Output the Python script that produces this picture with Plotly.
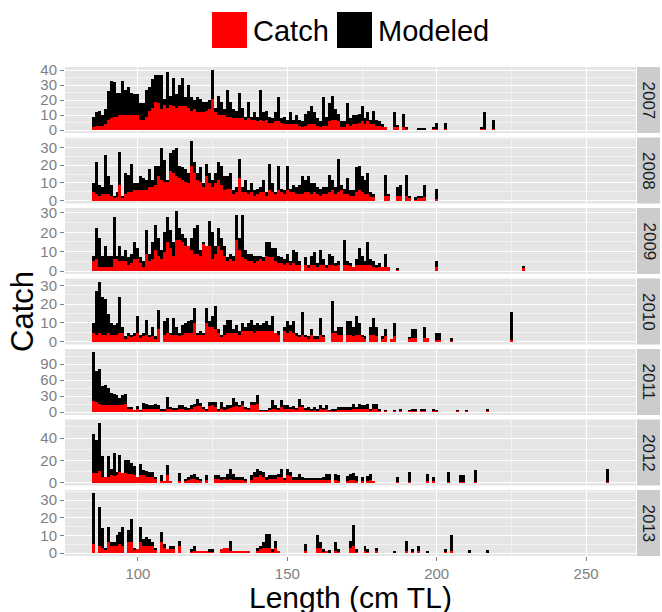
import plotly.graph_objects as go
from plotly.subplots import make_subplots

# Length bins (cm TL), one bar per cm
lengths = list(range(85, 259))
years = [2007, 2008, 2009, 2010, 2011, 2012, 2013]

# Values listed from 85 cm upward, 10 bins per row; remaining bins are 0
catch_2007 = [
    2, 3, 3, 3, 4, 7, 8, 9, 9, 10,
    10, 10, 10, 10, 10, 10, 7, 7, 9, 13,
    15, 19, 18, 14, 17, 15, 17, 16, 15, 16,
    16, 16, 15, 13, 14, 12, 12, 12, 13, 14,
    21, 12, 10, 10, 10, 9, 9, 8, 8, 8,
    8, 7, 8, 7, 7, 6, 7, 6, 7, 5,
    5, 6, 6, 5, 4, 4, 4, 4, 4, 3,
    2, 3, 4, 4, 4, 3, 2, 3, 3, 6,
    7, 7, 6, 2, 2, 4, 3, 4, 4, 5,
    6, 4, 6, 4, 4, 3, 3, 2, 2, 0,
    0, 2, 2, 0, 2, 1, 0, 0, 0, 0.5,
    0.5, 0.5, 0, 0, 1, 1, 0, 0, 1, 0,
    0, 0, 0, 0, 0, 0, 0, 0, 0, 0,
    1, 1, 0, 0, 1]
modeled_2007 = [
    7, 9, 10, 7, 10, 19, 25, 23, 16, 15,
    23, 17, 19, 15, 14, 14, 11, 11, 18, 16,
    19, 18, 19, 23, 4, 24, 6, 19, 9, 14,
    19, 6, 15, 9, 6, 10, 9, 7, 6, 6,
    19, 3, 13, 9, 4, 18, 10, 6, 5, 17,
    7, 2, 11, 2, 5, 3, 20, 6, 6, 4,
    3, 6, 16, 3, 5, 3, 8, 3, 6, 4,
    4, 8, 9, 12, 8, 5, 4, 19, 6, 12,
    16, 7, 5, 4, 4, 14, 5, 6, 6, 6,
    10, 4, 6, 3, 9, 4, 3, 2, 0, 0,
    0, 10, 1, 0, 9, 1, 0, 0, 0, 0.5,
    0.5, 0.5, 0, 0, 0.5, 4, 0, 0, 4, 0,
    0, 0, 0, 0, 0, 0, 0, 0, 0, 0,
    1, 11, 0, 0, 6]

catch_2008 = [
    5, 4, 3, 4, 4, 4, 3, 2, 2, 9,
    2, 4, 5, 5, 6, 6, 6, 6, 6, 8,
    8, 9, 14, 12, 11, 11, 17, 16, 14, 13,
    12, 11, 10, 20, 16, 12, 11, 8, 14, 10,
    8, 10, 12, 9, 6, 7, 7, 4, 5, 13,
    5, 5, 4, 5, 3, 4, 5, 5, 3, 6,
    5, 4, 6, 5, 4, 6, 5, 5, 4, 4,
    4, 5, 5, 4, 5, 4, 3, 4, 4, 5,
    6, 4, 5, 6, 4, 4, 3, 3, 5, 6,
    5, 4, 4, 2, 2, 0, 0, 0, 3, 3,
    0, 0, 3, 3, 0, 3, 2, 0, 1, 2,
    2, 2, 0, 0, 0, 1]
modeled_2008 = [
    5, 18, 6, 4, 22, 10, 6, 1, 3, 19,
    1, 12, 10, 16, 4, 4, 8, 7, 6, 10,
    4, 11, 6, 18, 12, 1, 10, 13, 16, 7,
    7, 7, 6, 14, 6, 4, 8, 2, 7, 6,
    4, 6, 10, 11, 8, 7, 9, 2, 3, 11,
    3, 7, 2, 5, 3, 3, 3, 7, 2, 15,
    5, 1, 14, 2, 2, 14, 2, 4, 4, 5,
    10, 7, 9, 6, 5, 4, 4, 4, 4, 10,
    6, 4, 19, 3, 3, 9, 3, 3, 14, 14,
    9, 8, 12, 3, 2, 0, 0, 0, 12, 1,
    0, 0, 5, 6, 0, 12, 1, 0, 1, 1,
    1, 7, 0, 0, 0, 6]

catch_2009 = [
    5, 6, 2, 2, 2, 2, 2, 6, 6, 5,
    5, 5, 3, 4, 6, 6, 4, 2, 9, 5,
    6, 11, 8, 6, 10, 15, 12, 8, 16, 16,
    15, 13, 13, 11, 9, 9, 8, 14, 13, 13,
    6, 9, 13, 11, 8, 5, 6, 5, 16, 11,
    7, 6, 5, 5, 4, 5, 6, 5, 8, 7,
    7, 5, 4, 4, 3, 4, 3, 4, 3, 3,
    0, 3, 2, 3, 3, 2, 3, 3, 2, 3,
    3, 3, 3, 0, 3, 3, 3, 2, 3, 3,
    3, 3, 3, 3, 2, 2, 2, 2, 2, 2,
    0, 0, 1, 0, 0, 0, 0, 0, 0, 0,
    0, 0, 0, 0, 0, 2, 0, 0, 0, 0,
    0, 0, 0, 0, 0, 0, 0, 0, 0, 0,
    0, 0, 0, 0, 0, 0, 0, 0, 0, 0,
    0, 0, 0, 0, 2]
modeled_2009 = [
    3, 16, 15, 6, 11, 6, 6, 22, 2, 8,
    3, 6, 4, 5, 9, 6, 3, 3, 12, 4,
    9, 13, 9, 5, 10, 13, 9, 7, 15, 6,
    4, 4, 0, 6, 13, 15, 3, 1, 0, 13,
    14, 4, 9, 6, 5, 2, 3, 3, 13, 6,
    22, 5, 4, 4, 4, 3, 2, 2, 7, 8,
    5, 7, 4, 3, 3, 5, 2, 7, 7, 2,
    0, 4, 1, 5, 7, 2, 8, 3, 1, 6,
    5, 1, 2, 0, 13, 2, 1, 0, 3, 9,
    5, 2, 12, 3, 3, 1, 2, 0, 7, 0,
    0, 0, 0.5, 0, 0, 0, 0, 0, 0, 0,
    0, 0, 0, 0, 0, 3, 0, 0, 0, 0,
    0, 0, 0, 0, 0, 0, 0, 0, 0, 0,
    0, 0, 0, 0, 0, 0, 0, 0, 0, 0,
    0, 0, 0, 0, 0.4]

catch_2010 = [
    5, 4, 5, 4, 4, 5, 4, 4, 4, 5,
    5, 2, 3, 3, 3, 5, 2, 3, 4, 3,
    3, 2, 7, 0, 4, 5, 4, 4, 4, 3,
    4, 5, 5, 5, 10, 4, 4, 4, 10, 8,
    8, 7, 5, 3, 4, 5, 5, 5, 5, 4,
    6, 6, 6, 6, 5, 6, 6, 6, 6, 6,
    6, 5, 4, 0, 6, 5, 6, 5, 3, 3,
    4, 3, 2, 4, 2, 2, 4, 3, 0, 0,
    5, 5, 4, 4, 0, 4, 4, 3, 4, 4,
    3, 2, 0, 4, 4, 3, 0, 2, 3, 0,
    1.5, 3, 0, 0, 0, 0, 2, 2, 2, 0,
    0, 2, 2, 0, 0, 1, 1, 0, 0, 0,
    1, 0, 0, 0, 0, 0, 0, 0, 0, 0,
    0, 0, 0, 0, 0, 0, 0, 0, 0, 0,
    1]
modeled_2010 = [
    5, 23, 27, 20, 19, 10, 6, 5, 6, 19,
    3, 1, 2, 1, 2, 9, 2, 2, 8, 1,
    5, 1, 10, 0, 7, 8, 1, 9, 4, 2,
    5, 5, 6, 7, 8, 1, 2, 1, 8, 3,
    6, 12, 2, 1, 5, 7, 7, 2, 4, 2,
    4, 2, 4, 6, 4, 4, 3, 4, 5, 3,
    8, 0, 2, 0, 2, 6, 3, 6, 2, 1,
    12, 1, 1, 3, 1, 1, 9, 1, 0, 0,
    17, 1, 4, 4, 0, 7, 7, 5, 10, 6,
    1, 1, 0, 4, 9, 5, 0, 1, 4, 0,
    0, 7, 0, 0, 0, 0, 0.5, 5, 5, 0,
    0, 6, 0, 0, 0, 4, 4, 0, 0, 0,
    1, 0, 0, 0, 0, 0, 0, 0, 0, 0,
    0, 0, 0, 0, 0, 0, 0, 0, 0, 0,
    15]

catch_2011 = [
    21, 19, 16, 14, 13, 13, 13, 14, 13, 13,
    13, 16, 6, 6, 3, 5, 2, 6, 6, 6,
    6, 6, 6, 3, 3, 6, 6, 4, 4, 6,
    6, 4, 4, 6, 10, 11, 11, 6, 3, 11,
    13, 10, 3, 6, 4, 6, 8, 10, 11, 10,
    13, 6, 4, 13, 13, 16, 2, 2, 2, 4,
    6, 6, 4, 10, 6, 6, 6, 6, 4, 10,
    10, 4, 4, 3, 4, 3, 6, 4, 6, 2,
    2, 2, 4, 4, 4, 4, 4, 5, 5, 6,
    5, 5, 5, 3, 5, 5, 3, 0, 2, 0,
    0, 2, 0, 3, 0, 0, 2, 2, 2, 0,
    3, 3, 0, 0, 3, 2, 0, 0, 0, 0,
    0, 0, 2, 0, 0, 2, 0, 0, 0, 0,
    0, 0, 3]
modeled_2011 = [
    92, 59, 65, 35, 37, 32, 23, 20, 19, 13,
    19, 18, 4, 2, 0, 6, 1, 11, 10, 7,
    7, 10, 7, 3, 3, 23, 4, 2, 2, 7,
    7, 6, 2, 7, 6, 13, 6, 4, 3, 8,
    6, 9, 3, 13, 6, 7, 5, 16, 8, 3,
    8, 4, 2, 6, 6, 16, 1, 1, 1, 2,
    17, 7, 2, 13, 7, 7, 4, 5, 2, 14,
    3, 2, 6, 3, 6, 3, 7, 2, 7, 1,
    2, 2, 6, 6, 6, 6, 6, 11, 5, 10,
    8, 8, 10, 3, 11, 11, 3, 0, 1, 0,
    0, 1, 0, 3, 0, 0, 1, 2, 2, 0,
    3, 3, 0, 0, 3, 1, 0, 0, 0, 0,
    0, 0, 1, 0, 0, 1, 0, 0, 0, 0,
    0, 0, 3]

catch_2012 = [
    9, 9, 11, 5, 5, 5, 7, 6, 7, 10,
    9, 9, 8, 8, 7, 5, 7, 7, 5, 5,
    5, 4, 0, 2, 2, 7, 2, 0, 0, 2,
    0, 2, 3, 4, 4, 3, 2, 0, 3, 0,
    0, 4, 4, 3, 4, 3, 4, 3, 3, 3,
    3, 2, 0, 3, 5, 5, 7, 5, 3, 4,
    4, 4, 5, 5, 3, 7, 6, 3, 3, 3,
    3, 3, 3, 3, 3, 3, 3, 3, 3, 3,
    0, 3, 2, 0, 0, 2, 3, 3, 2, 0,
    2, 0, 2, 3, 2, 0, 0, 0, 0, 0,
    0, 0, 1, 0, 0, 0, 1, 0, 0, 0,
    0, 0, 2, 0, 2, 0, 0, 0, 0, 1,
    0, 0, 0, 1, 1, 0, 0, 0, 1, 0,
    0, 0, 0, 0, 0, 0, 0, 0, 0, 0,
    0, 0, 0, 0, 0, 0, 0, 0, 0, 0,
    0, 0, 0, 0, 0, 0, 0, 0, 0, 0,
    0, 0, 0, 0, 0, 0, 0, 0, 0, 0,
    0, 0, 1, 0]
modeled_2012 = [
    35, 30, 43, 19, 0, 19, 6, 21, 3, 15,
    0, 12, 13, 10, 8, 0, 10, 5, 6, 5,
    5, 1, 0, 5, 0, 9, 0, 0, 0, 7,
    0, 2, 2, 3, 4, 2, 2, 0, 4, 0,
    0, 3, 3, 2, 1, 5, 9, 5, 2, 2,
    2, 2, 0, 4, 5, 8, 4, 5, 2, 3,
    3, 3, 3, 8, 1, 6, 4, 2, 2, 5,
    2, 1, 1, 1, 1, 1, 1, 2, 5, 5,
    0, 5, 5, 0, 0, 4, 5, 6, 4, 0,
    3, 0, 4, 5, 0, 0, 0, 0, 0, 0,
    0, 0, 4, 0, 0, 0, 9, 0, 0, 0,
    0, 0, 6, 0, 3, 0, 0, 0, 0, 9,
    0, 0, 0, 6, 6, 0, 0, 0, 11, 0,
    0, 0, 0, 0, 0, 0, 0, 0, 0, 0,
    0, 0, 0, 0, 0, 0, 0, 0, 0, 0,
    0, 0, 0, 0, 0, 0, 0, 0, 0, 0,
    0, 0, 0, 0, 0, 0, 0, 0, 0, 0,
    0, 0, 12, 0]

catch_2013 = [
    5, 0, 4, 3, 2, 6, 4, 4, 4, 5,
    4, 0, 6, 6, 2, 2, 6, 4, 4, 4,
    4, 2, 0, 6, 3, 2, 2, 2, 0, 4,
    0, 0, 0, 0.5, 1, 1, 1, 1, 1, 1,
    0.5, 0, 0, 2, 3, 3, 1, 1, 1, 1,
    1, 1, 1, 0, 0, 1, 2, 3, 3, 3,
    1, 3, 1, 0, 0, 0, 0, 0, 0, 0,
    0, 1, 0, 0, 0, 3, 3, 1, 1, 0.5,
    0, 1, 1, 0, 0, 0, 3, 4, 1, 0,
    0, 1, 1, 0, 0, 1, 0, 0, 0, 0,
    0, 0.5, 0, 0, 0, 1, 0, 1, 0, 1,
    0, 0, 0.5, 0, 0, 0, 0, 0, 1, 0,
    1, 0, 0, 0, 0, 0, 0.5, 0, 0, 0,
    0, 0, 0.5]
modeled_2013 = [
    29, 0, 22, 11, 1, 9, 2, 2, 6, 7,
    11, 0, 7, 13, 1, 0, 9, 4, 5, 4,
    2, 1, 0, 6, 2, 0, 2, 2, 0, 3,
    0, 0, 0, 1.5, 3, 0, 0, 0, 0, 1,
    1.5, 0, 0, 0, 0, 0, 6, 0, 0, 0,
    0, 0, 0, 0, 0, 2, 2, 3, 8, 8,
    1, 4, 0, 0, 0, 0, 0, 0, 0, 0,
    0, 4, 0, 0, 0, 7, 3, 1, 0, 1,
    0, 5, 1, 0, 0, 0, 4, 12, 1, 0,
    0, 3, 1, 0, 0, 2, 0, 0, 0, 0,
    0, 0.5, 0, 0, 0, 6, 0, 1, 0, 3,
    0, 0, 0.5, 0, 0, 0, 0, 0, 1, 0,
    9, 0, 0, 0, 0, 0, 1, 0, 0, 0,
    0, 0, 1]

catch_series = [catch_2007, catch_2008, catch_2009, catch_2010,
                catch_2011, catch_2012, catch_2013]
modeled_series = [modeled_2007, modeled_2008, modeled_2009, modeled_2010,
                  modeled_2011, modeled_2012, modeled_2013]
y_major_step = [10, 10, 10, 10, 30, 20, 10]
x_tick_values = [100, 150, 200, 250]


def pad(vals):
    return list(vals) + [0] * (len(lengths) - len(vals))


FONT = "Liberation Sans, Arial, sans-serif"
TICK_GREY = "#7F7F7F"
W, H = 662, 612
ML, MR, MT, MB = 65, 26, 67, 56
PW = W - ML - MR
PH = H - MT - MB

fig = make_subplots(rows=7, cols=1, shared_xaxes=True,
                    vertical_spacing=4.5 / PH)

for i, yr in enumerate(years):
    r = i + 1
    c = pad(catch_series[i])
    m = pad(modeled_series[i])
    fig.add_trace(go.Bar(x=lengths, y=c, name="Catch", width=1.0,
                         marker=dict(color="#FF0000", line=dict(width=0)),
                         showlegend=False), row=r, col=1)
    fig.add_trace(go.Bar(x=lengths, y=m, name="Modeled", width=1.0,
                         marker=dict(color="#000000", line=dict(width=0)),
                         showlegend=False), row=r, col=1)
    top = max(a + b for a, b in zip(c, m))
    step = y_major_step[i]
    fig.update_yaxes(range=[-0.05 * top, 1.05 * top], dtick=step, tick0=0,
                     row=r, col=1,
                     minor=dict(dtick=step / 2, tick0=0, showgrid=True,
                                gridcolor="#F2F2F2", gridwidth=0.6, ticklen=0))

fig.update_yaxes(showgrid=True, gridcolor="#FFFFFF", gridwidth=1.1,
                 zeroline=False, ticks="outside", ticklen=4, tickwidth=1,
                 tickcolor=TICK_GREY, showline=False, automargin=False,
                 tickfont=dict(family=FONT, size=15, color=TICK_GREY))

fig.update_xaxes(range=[75.6, 266.7], tickvals=x_tick_values,
                 showgrid=True, gridcolor="#FFFFFF", gridwidth=1.1,
                 zeroline=False, showline=False, automargin=False,
                 minor=dict(dtick=25, tick0=0, showgrid=True,
                            gridcolor="#F2F2F2", gridwidth=0.6, ticklen=0),
                 tickfont=dict(family=FONT, size=15, color=TICK_GREY))
fig.update_xaxes(ticks="outside", ticklen=4, tickwidth=1,
                 tickcolor=TICK_GREY, row=7, col=1)

# facet strips on the right
shapes = []
annotations = []
x0s = (637 - ML) / PW
x1s = (660 - ML) / PW
for i, yr in enumerate(years):
    ya = fig.layout["yaxis" + ("" if i == 0 else str(i + 1))]
    d0, d1 = ya.domain
    shapes.append(dict(type="rect", xref="paper", yref="paper",
                       x0=x0s, x1=x1s, y0=d0, y1=d1,
                       fillcolor="#CCCCCC", line=dict(width=0), layer="below"))
    annotations.append(dict(text=str(yr), xref="paper", yref="paper",
                            x=(x0s + x1s) / 2, y=(d0 + d1) / 2,
                            textangle=90, showarrow=False,
                            font=dict(family=FONT, size=17, color="#1A1A1A"),
                            xanchor="center", yanchor="middle"))


def px_x(p):
    return (p - ML) / PW


def px_y(p):
    return (H - MB - p) / PH


# legend (drawn manually to match large key squares)
shapes.append(dict(type="rect", xref="paper", yref="paper",
                   x0=px_x(212), x1=px_x(247), y0=px_y(48), y1=px_y(12),
                   fillcolor="#FF0000", line=dict(width=0)))
shapes.append(dict(type="rect", xref="paper", yref="paper",
                   x0=px_x(337), x1=px_x(372), y0=px_y(48), y1=px_y(12),
                   fillcolor="#000000", line=dict(width=0)))
annotations.append(dict(text="Catch", xref="paper", yref="paper",
                        x=px_x(251), y=px_y(31), xanchor="left",
                        yanchor="middle", showarrow=False,
                        font=dict(family=FONT, size=29, color="#000000")))
annotations.append(dict(text="Modeled", xref="paper", yref="paper",
                        x=px_x(376), y=px_y(31), xanchor="left",
                        yanchor="middle", showarrow=False,
                        font=dict(family=FONT, size=29, color="#000000")))

# axis titles
annotations.append(dict(text="Length (cm TL)", xref="paper", yref="paper",
                        x=0.5, y=px_y(597), xanchor="center",
                        yanchor="middle", showarrow=False,
                        font=dict(family=FONT, size=30, color="#000000")))
annotations.append(dict(text="Catch", xref="paper", yref="paper",
                        x=px_x(22), y=px_y(312), xanchor="center",
                        yanchor="middle", textangle=-90, showarrow=False,
                        font=dict(family=FONT, size=31, color="#000000")))

fig.update_layout(
    width=W, height=H,
    margin=dict(l=ML, r=MR, t=MT, b=MB, pad=0, autoexpand=False),
    barmode="stack", bargap=0,
    plot_bgcolor="#E5E5E5", paper_bgcolor="#FFFFFF",
    showlegend=False,
    shapes=shapes, annotations=annotations,
    font=dict(family=FONT),
)

fig.write_html(
    "out.html",
    config={"displayModeBar": False},
    post_script="document.body.style.margin='0px';"
                "document.body.style.padding='0px';"
                "document.body.style.overflow='hidden';",
)
